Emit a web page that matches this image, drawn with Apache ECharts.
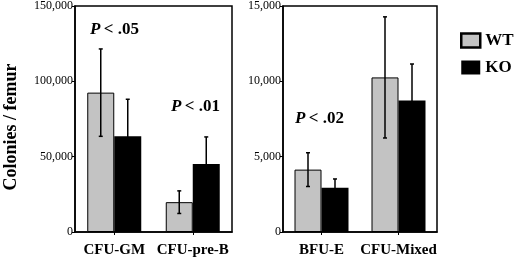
<!DOCTYPE html>
<html><head><meta charset="utf-8">
<script src="https://cdn.jsdelivr.net/npm/echarts@6/dist/echarts.min.js"></script>
<style>html,body{margin:0;padding:0;background:#fff}#c{width:520px;height:262px}</style>
</head><body><div id="c"></div>
<script>
const categoriesLeft = ['CFU-GM', 'CFU-pre-B'];
const wtLeft = [92500, 19800];
const wtLeftErr = [29000, 7500];
const koLeft = [63600, 45100];
const koLeftErr = [24500, 18000];

const categoriesRight = ['BFU-E', 'CFU-Mixed'];
const wtRight = [4140, 10260];
const wtRightErr = [1120, 4020];
const koRight = [2930, 8720];
const koRightErr = [590, 2430];

const ticksLeft = [0, 50000, 100000, 150000];
const ticksRight = [0, 5000, 10000, 15000];

const FONT = '"Liberation Serif", "Times New Roman", serif';
const GRAY = '#c3c3c3';
const BW = 27;

function fmt(v){ return v.toLocaleString('en-US'); }

function errSeries(name, grid, vals, errs, side){
  return {
    type: 'custom', name: name + ' err', xAxisIndex: grid, yAxisIndex: grid, z: 10,
    silent: true,
    data: vals.map((v,i)=>[i, v, errs[i]]),
    renderItem: function(params, api){
      const i = api.value(0), v = api.value(1), e = api.value(2);
      const top = api.coord([i, v + e]);
      const bot = api.coord([i, v - e]);
      const x = top[0] + side * BW / 2;
      const st = {stroke: '#000', lineWidth: 1.5};
      return {type: 'group', children: [
        {type: 'line', shape: {x1: x, y1: top[1], x2: x, y2: bot[1]}, style: st},
        {type: 'line', shape: {x1: x-2, y1: top[1], x2: x+2, y2: top[1]}, style: st},
        {type: 'line', shape: {x1: x-2, y1: bot[1], x2: x+2, y2: bot[1]}, style: st}
      ]};
    }
  };
}

function xAx(grid, cats){
  return {
    type: 'category', gridIndex: grid, data: cats,
    axisLine: {lineStyle: {color: '#000', width: 1.5}},
    axisTick: {show: true, alignWithLabel: true, length: 3, lineStyle: {color: '#000'}},
    axisLabel: {interval: 0, color: '#000', fontFamily: FONT, fontWeight: 'bold', fontSize: 15, margin: 11}
  };
}
function yAx(grid, ticks, name){
  return {
    type: 'value', gridIndex: grid, min: ticks[0], max: ticks[ticks.length-1],
    interval: ticks[1]-ticks[0],
    name: name, nameLocation: 'middle', nameGap: 55, nameRotate: 90,
    nameTextStyle: {color: '#000', fontFamily: FONT, fontWeight: 'bold', fontSize: 18, padding: [0, 16, 0, 0]},
    axisLine: {show: true, lineStyle: {color: '#000', width: 1.5}},
    axisTick: {show: true, length: 3, lineStyle: {color: '#000'}},
    splitLine: {show: false},
    axisLabel: {color: '#000', fontFamily: FONT, fontSize: 12, margin: 2, formatter: fmt}
  };
}

const rich = {
  i: {fontFamily: FONT, fontStyle: 'italic', fontWeight: 'bold', fontSize: 17, fill: '#000'},
  b: {fontFamily: FONT, fontWeight: 'bold', fontSize: 17, fill: '#000'}
};

const chart = echarts.init(document.getElementById('c'), null, {renderer: 'canvas'});
chart.setOption({
  animation: false,
  backgroundColor: '#fff',
  grid: [
    {left: 75, right: 288, top: 5, bottom: 30, show: true, borderColor: '#000', borderWidth: 1.5},
    {left: 283, right: 83, top: 5, bottom: 30, show: true, borderColor: '#000', borderWidth: 1.5}
  ],
  xAxis: [xAx(0, categoriesLeft), xAx(1, categoriesRight)],
  yAxis: [yAx(0, ticksLeft, 'Colonies / femur'), yAx(1, ticksRight, '')],
  legend: {
    left: 460, top: 32, padding: 0, orient: 'vertical', itemWidth: 19, itemHeight: 14, itemGap: 10,
    icon: 'rect',
    data: [
      {name: 'WT', itemStyle: {color: GRAY, borderColor: '#000', borderWidth: 2.5}},
      {name: 'KO', itemStyle: {color: '#000'}}
    ],
    textStyle: {color: '#000', fontFamily: FONT, fontWeight: 'bold', fontSize: 17}
  },
  series: [
    {type: 'bar', name: 'WT', xAxisIndex: 0, yAxisIndex: 0, data: wtLeft, barWidth: BW, barGap: '0%',
     itemStyle: {color: GRAY, borderColor: '#000', borderWidth: 1}},
    {type: 'bar', name: 'KO', xAxisIndex: 0, yAxisIndex: 0, data: koLeft, barWidth: BW, barGap: '0%',
     itemStyle: {color: '#000'}},
    {type: 'bar', name: 'WT', xAxisIndex: 1, yAxisIndex: 1, data: wtRight, barWidth: BW, barGap: '0%',
     itemStyle: {color: GRAY, borderColor: '#000', borderWidth: 1}},
    {type: 'bar', name: 'KO', xAxisIndex: 1, yAxisIndex: 1, data: koRight, barWidth: BW, barGap: '0%',
     itemStyle: {color: '#000'}},
    errSeries('WT', 0, wtLeft, wtLeftErr, -1),
    errSeries('KO', 0, koLeft, koLeftErr, 1),
    errSeries('WT', 1, wtRight, wtRightErr, -1),
    errSeries('KO', 1, koRight, koRightErr, 1)
  ],
  graphic: [
    {type: 'text', left: 90, top: 21, style: {text: '{i|P} {b|< .05}', rich: rich}},
    {type: 'text', left: 171, top: 98, style: {text: '{i|P} {b|< .01}', rich: rich}},
    {type: 'text', left: 295, top: 110, style: {text: '{i|P} {b|< .02}', rich: rich}}
  ]
});
</script></body></html>
